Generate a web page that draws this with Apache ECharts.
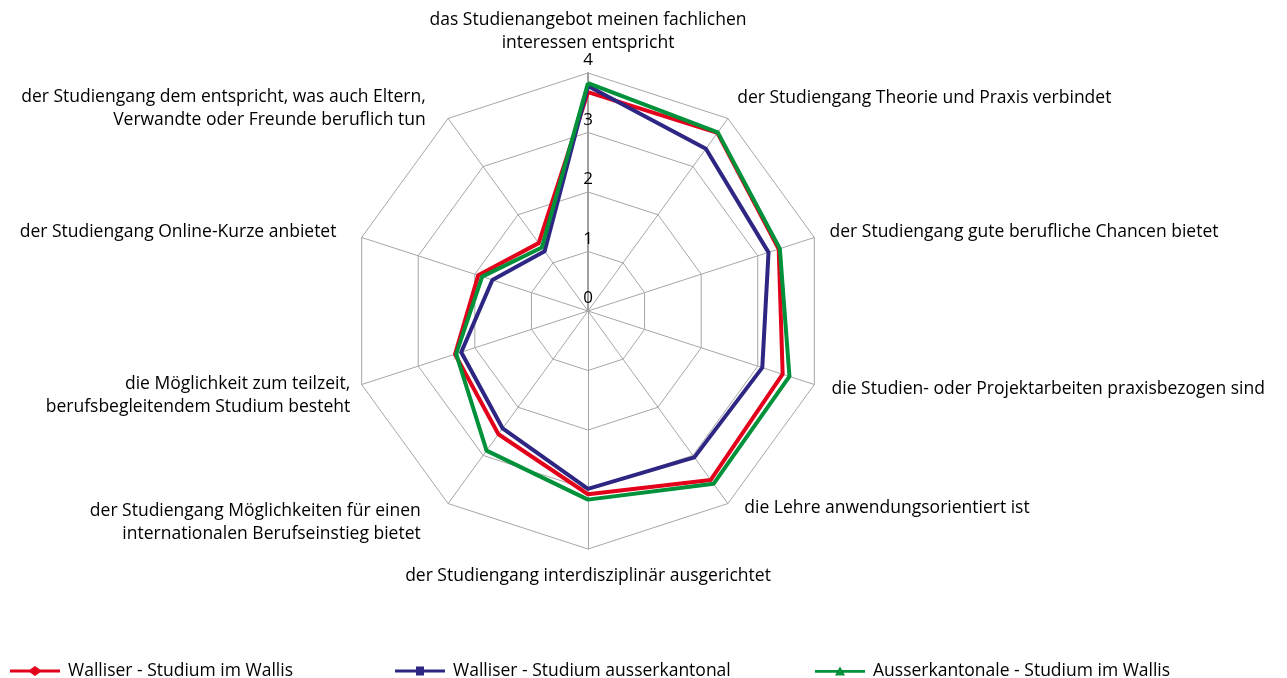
<!DOCTYPE html>
<html>
<head>
<meta charset="utf-8">
<script src="https://cdn.jsdelivr.net/npm/echarts@6/dist/echarts.min.js"></script>
<style>
  html, body { margin: 0; padding: 0; background: #fff; }
  #main { width: 1287px; height: 678px; }
</style>
</head>
<body>
<div id="main"></div>
<script>
'use strict'
// Radar: Wahlkriterien Studium, clockwise from top

var names = [
    'das Studienangebot meinen fachlichen\ninteressen entspricht',
    'der Studiengang Theorie und Praxis verbindet',
    'der Studiengang gute berufliche Chancen bietet',
    'die Studien- oder Projektarbeiten praxisbezogen sind',
    'die Lehre anwendungsorientiert ist',
    'der Studiengang interdisziplinär ausgerichtet',
    'der Studiengang Möglichkeiten für einen\ninternationalen Berufseinstieg bietet',
    'die Möglichkeit zum teilzeit,\nberufsbegleitendem Studium besteht',
    'der Studiengang Online-Kurze anbietet',
    'der Studiengang dem entspricht, was auch Eltern,\nVerwandte oder Freunde beruflich tun'
];

var seriesNames = ['Walliser - Studium im Wallis', 'Walliser - Studium ausserkantonal', 'Ausserkantonale - Studium im Wallis'];

var walliserWallis = [3.68, 3.70, 3.37, 3.44, 3.51, 3.08, 2.56, 2.35, 1.94, 1.41];
var walliserAusser = [3.78, 3.37, 3.19, 3.08, 3.04, 2.99, 2.44, 2.24, 1.69, 1.24];
var ausserWallis   = [3.83, 3.71, 3.39, 3.56, 3.59, 3.17, 2.90, 2.33, 1.87, 1.32];

var axisMax = 4;

var colors = ['#e2001a', '#2e2683', '#00913a'];

// name placement tweaks per indicator (clockwise): gap, vertical anchor, padding
var nameGaps = [16, 16, 16, 16, 16, 16, 16, 12, 16, 16];
var nameVAlign = ['bottom', 'bottom', null, null, 'bottom', null, 'top', 'top', null, 'top'];
var namePads = [
    [0, 0, -3, 0],
    [0, 0, -4.5, 0],
    [0, 0, 0, 0],
    [0, 0, 0, 2],
    [0, 0, -3.5, 7],
    [0, 0, 0, 0],
    [-17, 18, 0, 0],
    [-16, 0, 0, 0],
    [0, 10, 0, 0],
    [-20, 13, 0, 0]
];

// echarts lays radar indicators out counter-clockwise, so flip the order
function ccw(arr) {
    return [arr[0]].concat(arr.slice(1).reverse());
}

var gapsCcw = ccw(nameGaps);
var padsCcw = ccw(namePads);
var valignCcw = ccw(nameVAlign);

var indicators = ccw(names).map(function (n, i) {
    var nts = { padding: padsCcw[i] };
    if (valignCcw[i]) nts.verticalAlign = valignCcw[i];
    var ind = {
        name: n, max: axisMax, min: 0,
        nameGap: gapsCcw[i],
        nameTextStyle: nts
    };
    if (i === 0) {
        ind.axisLabel = { show: true };
        ind.axisLine = { lineStyle: { color: '#a0a0a0', width: 2 } };
    }
    return ind;
});

var diamondIcon = 'path://M0,3.6 L20,3.6 L25,0 L30,3.6 L50,3.6 L50,6.4 L30,6.4 L25,10 L20,6.4 L0,6.4 Z';
var squareIcon = 'path://M0,3.6 L21,3.6 L21,0.6 L29,0.6 L29,3.6 L50,3.6 L50,6.4 L29,6.4 L29,9.4 L21,9.4 L21,6.4 L0,6.4 Z';
var triangleIcon = 'path://M0,3.6 L23,3.6 L25,0 L27,3.6 L50,3.6 L50,6.4 L28.5,6.4 L30,9.2 L20,9.2 L21.5,6.4 L0,6.4 Z';

var legendText = { fontFamily: 'Open Sans', fontSize: 17.5, color: '#000', padding: [0, 0, 0, 3] };

var option = {
    animation: false,
    color: colors,
    textStyle: { fontFamily: 'Open Sans' },
    legend: [
        { data: [seriesNames[0]], left: 10, top: 662, padding: 0, itemGap: 0, itemWidth: 50, itemHeight: 10, icon: diamondIcon, textStyle: legendText },
        { data: [seriesNames[1]], left: 395, top: 662, padding: 0, itemGap: 0, itemWidth: 50, itemHeight: 10, icon: squareIcon, textStyle: legendText },
        { data: [seriesNames[2]], left: 815, top: 662, padding: 0, itemGap: 0, itemWidth: 50, itemHeight: 10, icon: triangleIcon, textStyle: legendText }
    ],
    radar: {
        center: [588, 311],
        radius: 238,
        startAngle: 90,
        shape: 'polygon',
        splitNumber: 4,
        nameGap: 16,
        axisName: {
            color: '#000',
            fontFamily: 'Open Sans',
            fontSize: 17.5,
            lineHeight: 23
        },
        indicator: indicators,
        axisLine: { lineStyle: { color: '#a6a6a6', width: 1 } },
        splitLine: { lineStyle: { color: '#a6a6a6', width: 1 } },
        splitArea: { show: false },
        axisTick: { show: false },
        axisLabel: {
            show: false,
            color: '#000',
            fontFamily: 'Open Sans',
            fontSize: 17,
            margin: 0,
            align: 'center',
            verticalAlign: 'bottom',
            padding: [0, 0, 4, 0]
        }
    },
    series: [{
        type: 'radar',
        symbol: 'none',
        lineStyle: { width: 4 },
        data: [
            { name: seriesNames[0], value: ccw(walliserWallis), lineStyle: { color: colors[0] }, itemStyle: { color: colors[0] } },
            { name: seriesNames[1], value: ccw(walliserAusser), lineStyle: { color: colors[1] }, itemStyle: { color: colors[1] } },
            { name: seriesNames[2], value: ccw(ausserWallis), lineStyle: { color: colors[2] }, itemStyle: { color: colors[2] } }
        ]
    }]
};

var myChart = echarts.init(document.getElementById('main'));
myChart.setOption(option);
</script>
</body>
</html>
